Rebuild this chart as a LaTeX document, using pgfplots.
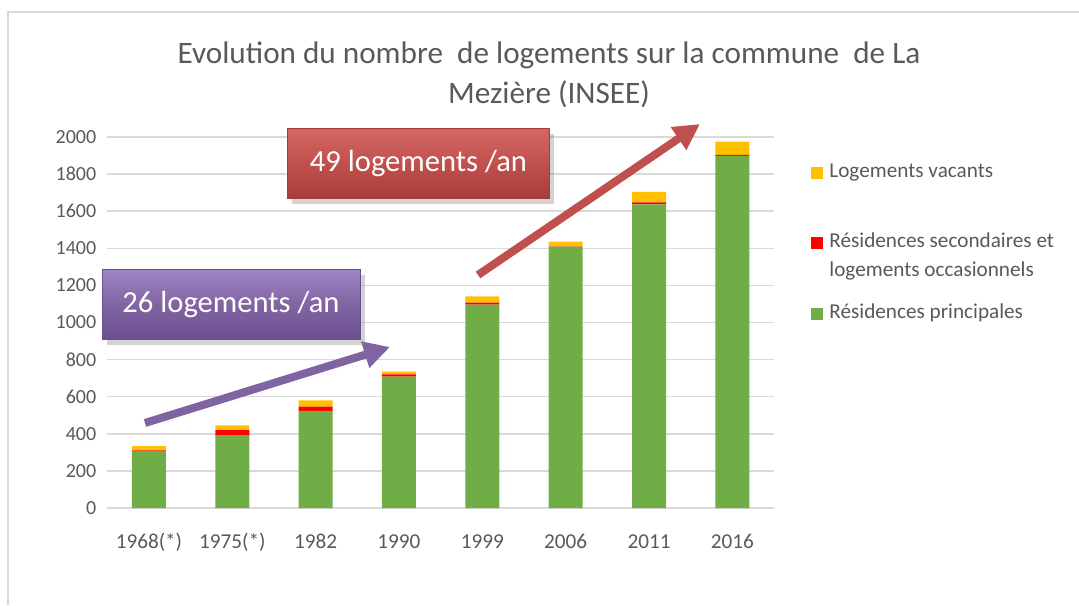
\documentclass[border=0pt]{standalone}
\usepackage{pgfplots}
\pgfplotsset{compat=1.18}
\usepackage{fontspec}
\setmainfont{Carlito}
\usetikzlibrary{arrows.meta,shadows}
\definecolor{cgreen}{HTML}{70AD47}
\definecolor{cred}{HTML}{FF0000}
\definecolor{cyellow}{HTML}{FFC000}
\definecolor{gridgray}{HTML}{D9D9D9}
\definecolor{textgray}{HTML}{595959}
\definecolor{purp}{HTML}{8064A2}
\definecolor{purpl}{HTML}{9F84C6}
\definecolor{purpd}{HTML}{6B4F90}
\definecolor{redb}{HTML}{C0504D}
\definecolor{redl}{HTML}{D46662}
\definecolor{redd}{HTML}{A53C39}
\begin{document}
\begin{tikzpicture}[x=1pt,y=1pt]
\path[use as bounding box] (0,0) rectangle (539.5,302.5);
\draw[line width=0.6pt, gridgray] (4,0) -- (4,296.5) -- (539.5,296.5);
% title
\node[anchor=base, text=textgray, font=\fontsize{15.6}{20}\selectfont] at (274.5,270.5) {Evolution du nombre\ \ de logements sur la commune\ \ de La};
\node[anchor=base, text=textgray, font=\fontsize{15.6}{20}\selectfont] at (274.5,250.5) {Mezière (INSEE)};
\begin{axis}[
  at={(53.65pt,48.5pt)}, anchor=south west,
  scale only axis, width=333.35pt, height=185.5pt,
  ybar stacked, bar width=17pt,
  xmin=-0.5, xmax=7.5, ymin=0, ymax=2000,
  ytick={0,200,...,2000},
  xtick={0,...,7},
  xticklabels={1968(*),1975(*),1982,1990,1999,2006,2011,2016},
  ymajorgrids, grid style={gridgray, line width=0.75pt},
  axis x line*=bottom, axis y line*=left,
  x axis line style={gridgray, line width=0.75pt, -},
  y axis line style={draw=none},
  major tick length=0pt,
  tick style={draw=none},
  /pgf/number format/assume math mode=true,
  /pgf/number format/1000 sep={},
  ticklabel style={text=textgray, font=\fontsize{10}{12}\selectfont},
  xticklabel style={yshift=-9pt, font=\fontsize{10.6}{12}\selectfont, text height=0.75em, text depth=0.2em},
  yticklabel style={xshift=-2pt},
  clip=false,
]
\addplot[fill=cgreen, draw=none] coordinates {(0,308) (1,390) (2,523) (3,708) (4,1096) (5,1409) (6,1637) (7,1898)};
\addplot[fill=cred, draw=none] coordinates {(0,3) (1,30) (2,23) (3,13) (4,11) (5,2) (6,11) (7,5)};
\addplot[fill=cyellow, draw=none] coordinates {(0,23) (1,25) (2,34) (3,14) (4,34) (5,25) (6,56) (7,72)};
\end{axis}
% arrows
\draw[purp, line width=4pt, -{Triangle[length=13pt,width=13pt]}, drop shadow={opacity=0.25}] (72.5,91) -- (195,129);
\draw[redb, line width=4pt, -{Triangle[length=13pt,width=13pt]}, drop shadow={opacity=0.25}] (239,165) -- (350,240.5);
% boxes
\node[draw=purpd, line width=0.5pt, top color=purpl, bottom color=purpd, middle color=purp, minimum width=129pt, minimum height=35pt, text=white, font=\fontsize{15.3}{18}\selectfont, drop shadow={opacity=0.35}] at (115.5,150) {26 logements /an};
\node[draw=redd, line width=0.5pt, top color=redl, bottom color=redd, middle color=redb, minimum width=131pt, minimum height=35pt, text=white, font=\fontsize{15.3}{18}\selectfont, drop shadow={opacity=0.35}] at (209.25,220.5) {49 logements /an};
% legend
\fill[cyellow] (405.5,213.1) rectangle (411.3,218.9);
\node[anchor=mid west, inner sep=0pt, text=textgray, font=\fontsize{10.6}{12}\selectfont] at (414.5,216) {Logements vacants};
\fill[cred] (405.5,178.1) rectangle (411.3,183.9);
\node[anchor=mid west, inner sep=0pt, text=textgray, font=\fontsize{10.6}{12}\selectfont] at (414.5,181) {Résidences secondaires et};
\node[anchor=mid west, inner sep=0pt, text=textgray, font=\fontsize{10.6}{12}\selectfont] at (414.5,166.5) {logements occasionnels};
\fill[cgreen] (405.5,142.6) rectangle (411.3,148.4);
\node[anchor=mid west, inner sep=0pt, text=textgray, font=\fontsize{10.6}{12}\selectfont] at (414.5,145.5) {Résidences principales};
\end{tikzpicture}
\end{document}
